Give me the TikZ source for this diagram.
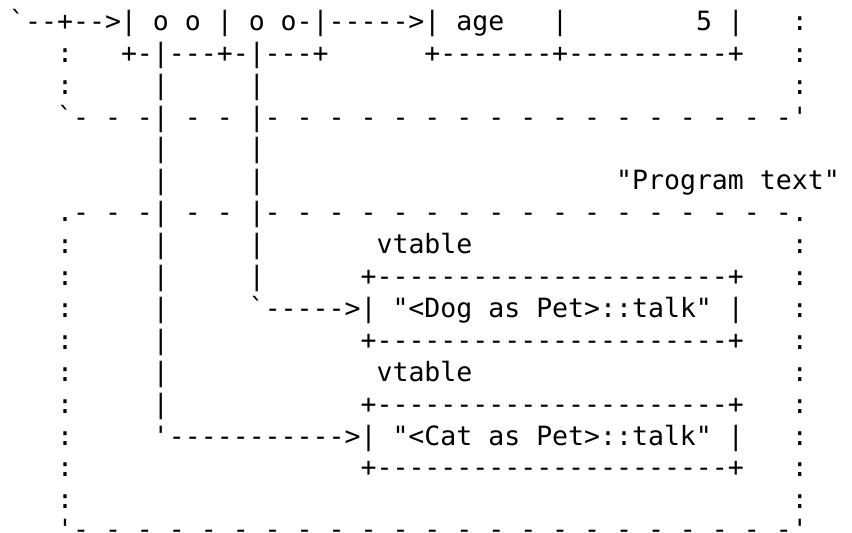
\documentclass[tikz,border=0pt]{standalone}
\usepackage{fontspec}
\setmonofont{DejaVu Sans Mono}
\usepackage{tikz}
\newcommand\pad[1]{\hspace*{#1\fontcharwd\font`x}}

\begin{document}
\begin{tikzpicture}[x=1pt, y=1pt,
    ascii/.style={anchor=base west, inner sep=0pt, font=\ttfamily\fontsize{26.53}{31.9}\selectfont}]
        \useasboundingbox (0,0) rectangle (852,-533);

        \node[ascii] (L0) at (9,-30.3) {`--+-->|~o~o~|~o~o-|----->|~age~~~|\pad{8}5~|~~~:};
        \node[ascii] (L1) at (9,-62.2) {~~~:~~~+-|---+-|---+\pad{6}+-------+----------+~~~:};
        \node[ascii] (L2) at (9,-94.1) {~~~:\pad{5}|\pad{5}|\pad{33}:};
        \node[ascii] (L3) at (9,-126.0) {~~~`-~-~-|~-~-~|-~-~-~-~-~-~-~-~-~-~-~-~-~-~-~-~-'};
        \node[ascii] (L4) at (9,-157.9) {\pad{9}|\pad{5}|};
        \node[ascii] (L5) at (9,-189.8) {\pad{9}|\pad{5}|\pad{22}"Program~text"};
        \node[ascii] (L6) at (9,-221.7) {~~~.-~-~-|~-~-~|-~-~-~-~-~-~-~-~-~-~-~-~-~-~-~-~-.};
        \node[ascii] (L7) at (9,-253.6) {~~~:\pad{5}|\pad{5}|\pad{7}vtable\pad{20}:};
        \node[ascii] (L8) at (9,-285.5) {~~~:\pad{5}|\pad{5}|\pad{6}+----------------------+~~~:};
        \node[ascii] (L9) at (9,-317.4) {~~~:\pad{5}|\pad{5}`----->|~"<Dog~as~Pet>::talk"~|~~~:};
        \node[ascii] (L10) at (9,-349.3) {~~~:\pad{5}|\pad{12}+----------------------+~~~:};
        \node[ascii] (L11) at (9,-381.2) {~~~:\pad{5}|\pad{13}vtable\pad{20}:};
        \node[ascii] (L12) at (9,-413.1) {~~~:\pad{5}|\pad{12}+----------------------+~~~:};
        \node[ascii] (L13) at (9,-445.0) {~~~:\pad{5}'----------->|~"<Cat~as~Pet>::talk"~|~~~:};
        \node[ascii] (L14) at (9,-476.9) {~~~:\pad{18}+----------------------+~~~:};
        \node[ascii] (L15) at (9,-508.8) {~~~:\pad{45}:};
        \node[ascii] (L16) at (9,-538.5) {~~~'-~-~-~-~-~-~-~-~-~-~-~-~-~-~-~-~-~-~-~-~-~-~-'};
    \end{tikzpicture}
\end{document}
